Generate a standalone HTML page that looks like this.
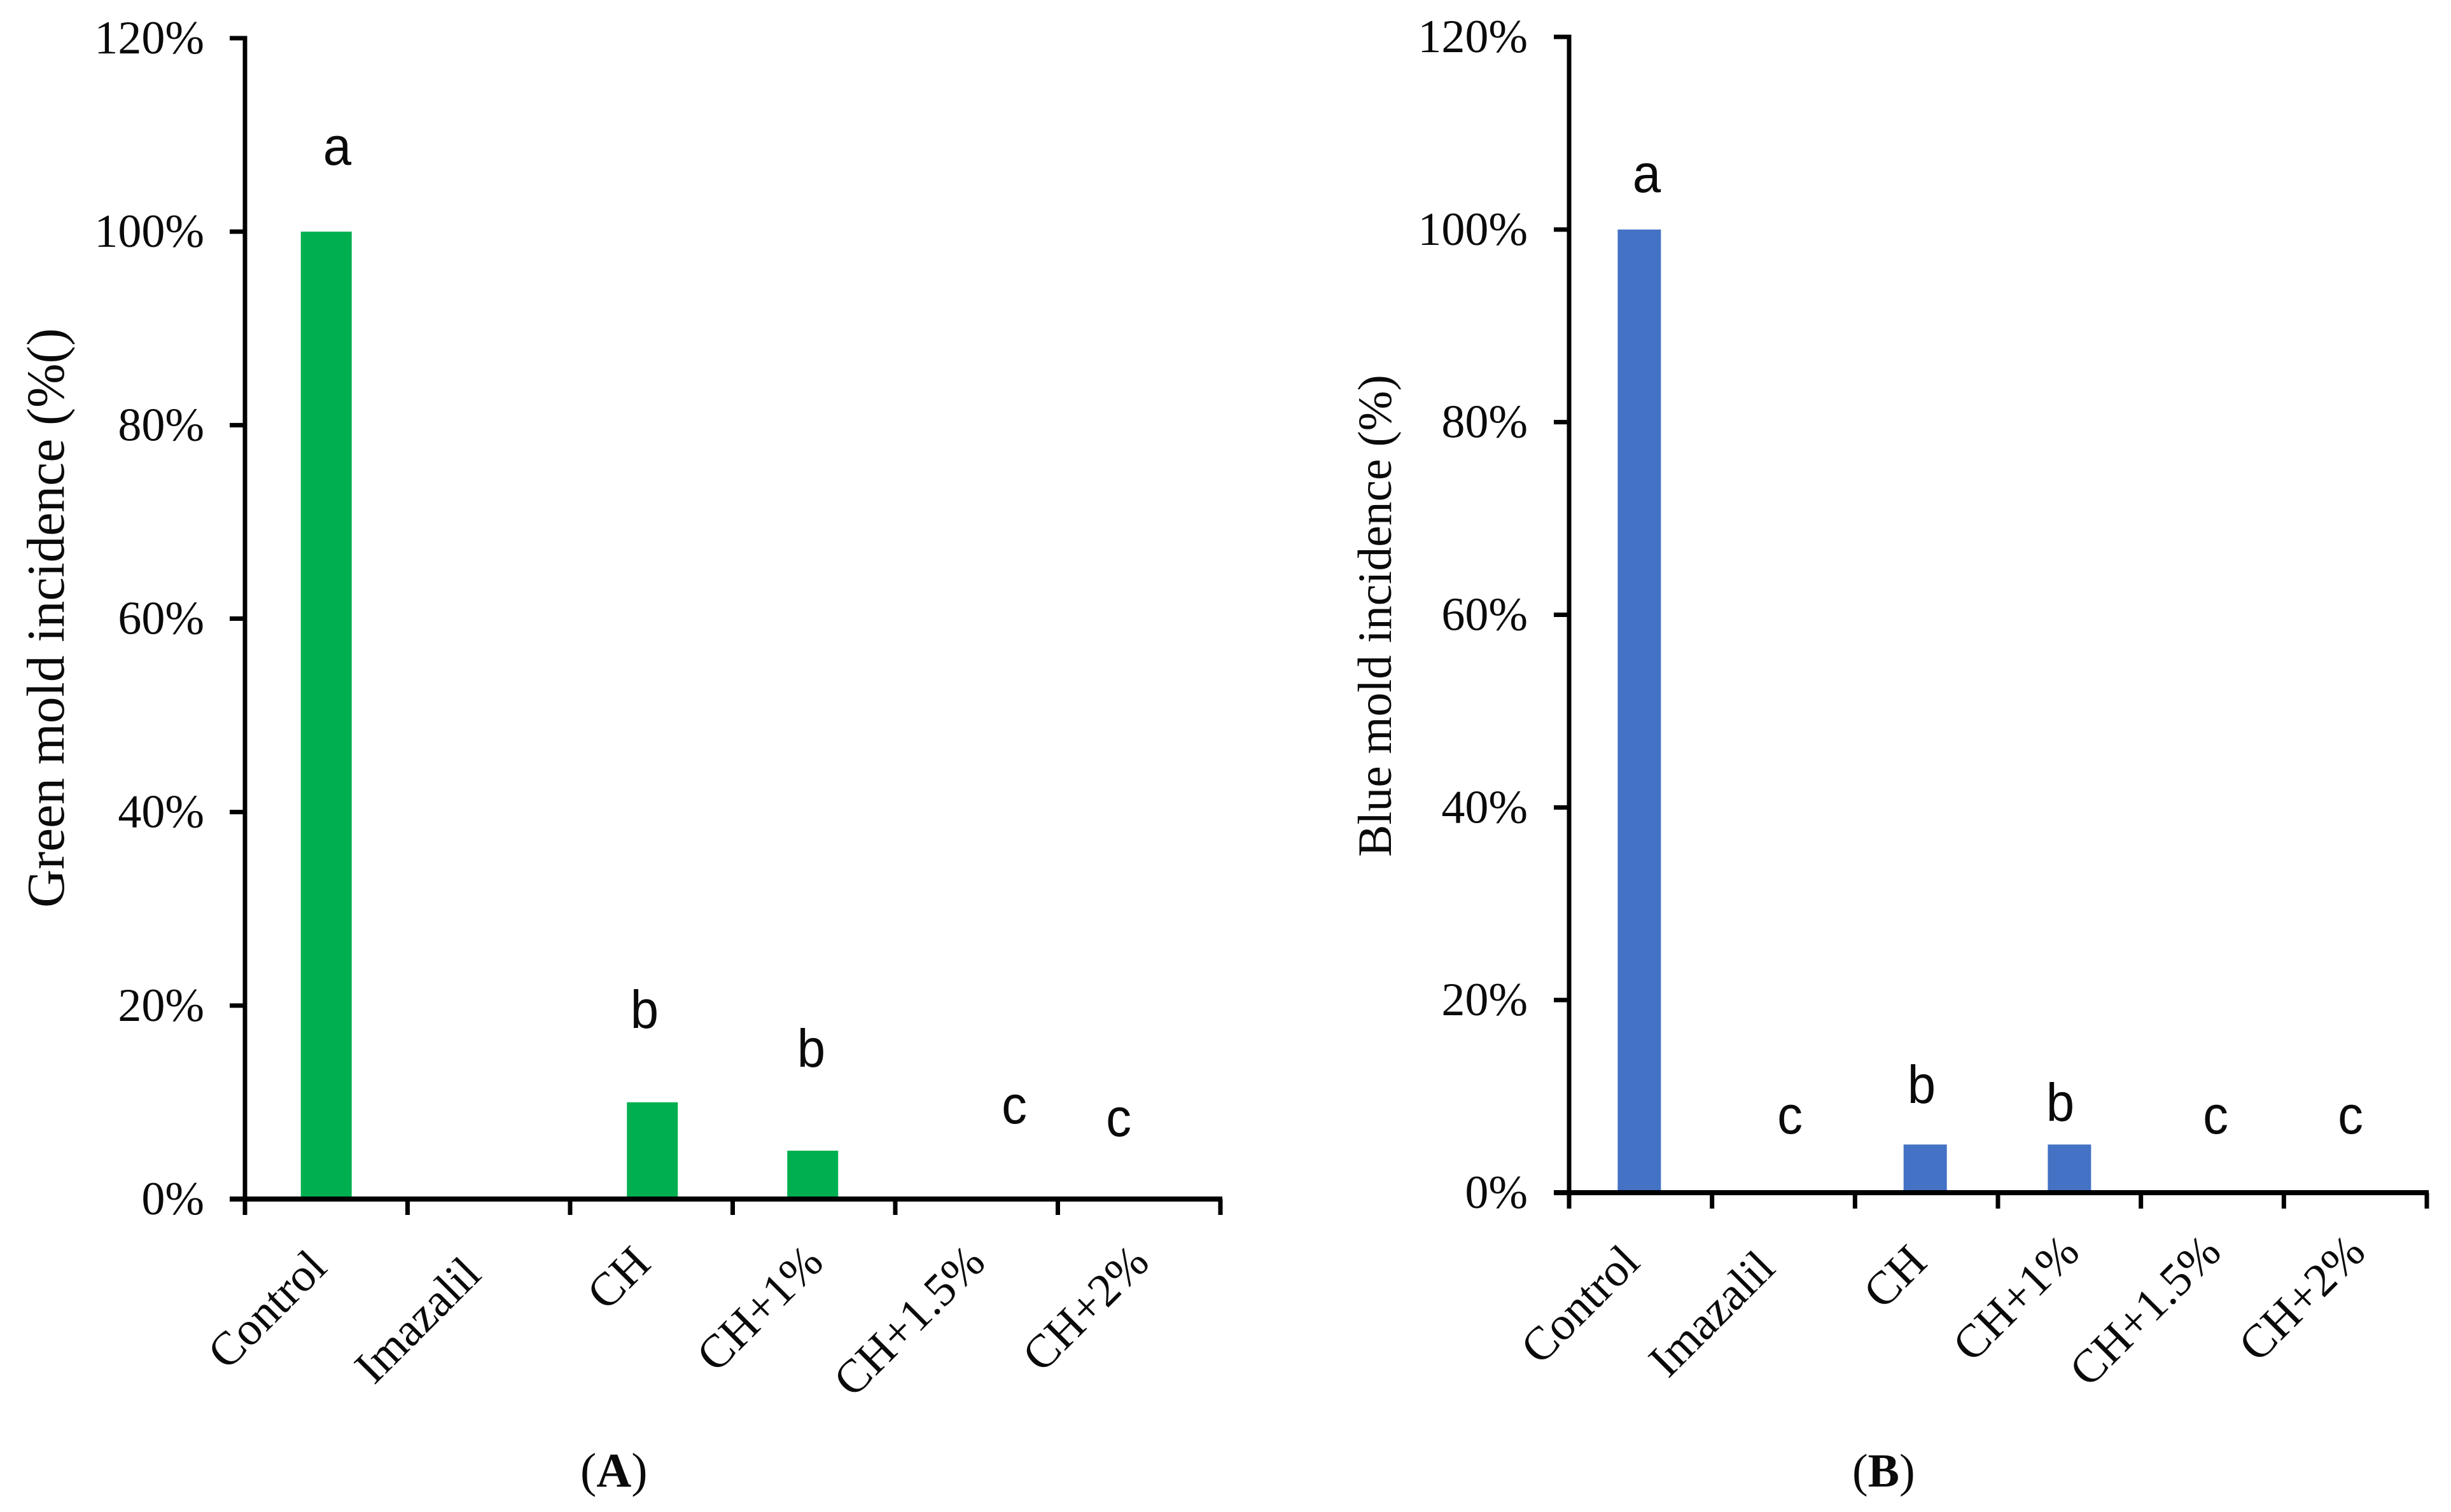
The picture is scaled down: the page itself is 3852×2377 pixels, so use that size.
<!DOCTYPE html>
<html lang="en">
<head>
<meta charset="utf-8">
<title>Green and blue mold incidence</title>
<style>
  html, body { margin: 0; padding: 0; background: #fff; }
  svg { display: block; }
  text { font-family: "Liberation Serif", serif; fill: #0a0a0a; }
  .letter { font-family: "Liberation Sans", sans-serif; font-size: 84px; }
</style>
</head>
<body>
<svg id="figure" width="3852" height="2377" viewBox="0 0 3852 2377" xmlns="http://www.w3.org/2000/svg">
  <rect x="0" y="0" width="3852" height="2377" fill="#ffffff"/>
  <text transform="translate(100,1427) rotate(-90)" font-size="83.5">Green mold incidence (%()</text>
  <text transform="translate(2186,1347) rotate(-90)" font-size="75.6">Blue mold incidence (%)</text>
  <text x="912" y="2337" font-size="76">(<tspan font-weight="bold">A</tspan>)</text>
  <text x="2911" y="2337" font-size="74">(<tspan font-weight="bold">B</tspan>)</text>
</svg>
<script>
const categories = ['Control', 'Imazalil', 'CH', 'CH+1%', 'CH+1.5%', 'CH+2%'];
const yTickValues = [0, 20, 40, 60, 80, 100, 120];
const greenMoldValues = [100, 0, 10, 5, 0, 0];
const blueMoldValues = [100, 0, 5, 5, 0, 0];
const greenMoldLetters = ['a', '', 'b', 'b', 'c', 'c'];
const blueMoldLetters = ['a', 'c', 'b', 'b', 'c', 'c'];

const NS = 'http://www.w3.org/2000/svg';
const svg = document.getElementById('figure');

const panelA = {
  key: 'green', values: greenMoldValues, letters: greenMoldLetters, color: '#00B050',
  x0: 385, x1: 1918, y0: 1885, y120: 60, barWidth: 80, tickLabelRight: 321, barShift: [0, 0, 1.5, -2, 0, 0],
  labelShift: [[4, 111], [-9, 122], [2, 105], [18, 103], [17, 103], [19, 103]],
  letterPos: [[530, 259], null, [1013, 1616], [1275, 1677], [1594, 1766], [1758, 1786]]
};
const panelB = {
  key: 'blue', values: blueMoldValues, letters: blueMoldLetters, color: '#4472C4',
  x0: 2466, x1: 3814, y0: 1875, y120: 58, barWidth: 68, tickLabelRight: 2401, barShift: [-2, 0, -2, 0, 0, 0],
  labelShift: [[2, 113], [-10, 122], [4, 113], [19, 97], [17, 97], [19, 97]],
  letterPos: [[2588, 302], [2813, 1782], [3020, 1734], [3238, 1762], [3482, 1782], [3694, 1782]]
};

function yScale(panel, value) {
  return panel.y0 - (value / 120) * (panel.y0 - panel.y120);
}
function bandStart(panel, index) {
  return panel.x0 + index * (panel.x1 - panel.x0) / categories.length;
}
function bandCenter(panel, index) {
  return panel.x0 + (index + 0.5) * (panel.x1 - panel.x0) / categories.length;
}
function make(tag, attrs, parent) {
  const el = document.createElementNS(NS, tag);
  for (const k in attrs) el.setAttribute(k, attrs[k]);
  parent.appendChild(el);
  return el;
}
function slug(s) {
  return s.toLowerCase().replace(/\+/g, '-plus-').replace(/%/g, 'pct').replace(/\./g, '-');
}

function drawPanel(p) {
  const group = make('g', {}, svg);
  
  

  // bars
  p.values.forEach(function (v, i) {
    if (v <= 0) return;
    const top = yScale(p, v);
    const bar = make('rect', {
      x: bandCenter(p, i) + p.barShift[i] - p.barWidth / 2,
      y: top,
      width: p.barWidth,
      height: p.y0 - top,
      fill: p.color
    }, group);
    
    
  });

  // y axis line
  const yAxis = make('line', {
    x1: p.x0, x2: p.x0, y1: yScale(p, 120) - 3.5, y2: p.y0 + 25, stroke: '#000', 'stroke-width': 7
  }, group);
  
  

  // x axis line
  const xAxis = make('line', {
    x1: p.x0 - 24, x2: p.x1 + 3, y1: p.y0, y2: p.y0, stroke: '#000', 'stroke-width': 8
  }, group);
  
  

  // y ticks and labels
  yTickValues.forEach(function (t) {
    const y = yScale(p, t);
    const tick = make('line', {
      x1: p.x0 - 24, x2: p.x0, y1: y, y2: y, stroke: '#000', 'stroke-width': 7
    }, group);
    
    
    const label = make('text', {
      x: p.tickLabelRight, y: y + 24, 'text-anchor': 'end', 'font-size': 74
    }, group);
    
    
    label.textContent = t + '%';
  });

  // x ticks
  for (let i = 1; i <= categories.length; i++) {
    const x = bandStart(p, i);
    const tick = make('line', {
      x1: x, x2: x, y1: p.y0, y2: p.y0 + 25, stroke: '#000', 'stroke-width': 7
    }, group);
    
    
  }

  // category labels
  categories.forEach(function (c, i) {
    const ax = bandCenter(p, i) + p.labelShift[i][0];
    const ay = p.y0 + p.labelShift[i][1];
    const label = make('text', {
      transform: 'translate(' + ax + ',' + ay + ') rotate(-45)',
      'text-anchor': 'end',
      'font-size': 74
    }, group);
    
    
    label.textContent = c;
  });

  // significance letters
  p.letters.forEach(function (l, i) {
    if (!l) return;
    const pos = p.letterPos[i];
    const letter = make('text', {
      'class': 'letter',
      transform: 'translate(' + pos[0] + ',' + pos[1] + ') scale(0.95,1)',
      'text-anchor': 'middle'
    }, group);
    
    
    letter.textContent = l;
  });
}

drawPanel(panelA);
drawPanel(panelB);
</script>
</body>
</html>
